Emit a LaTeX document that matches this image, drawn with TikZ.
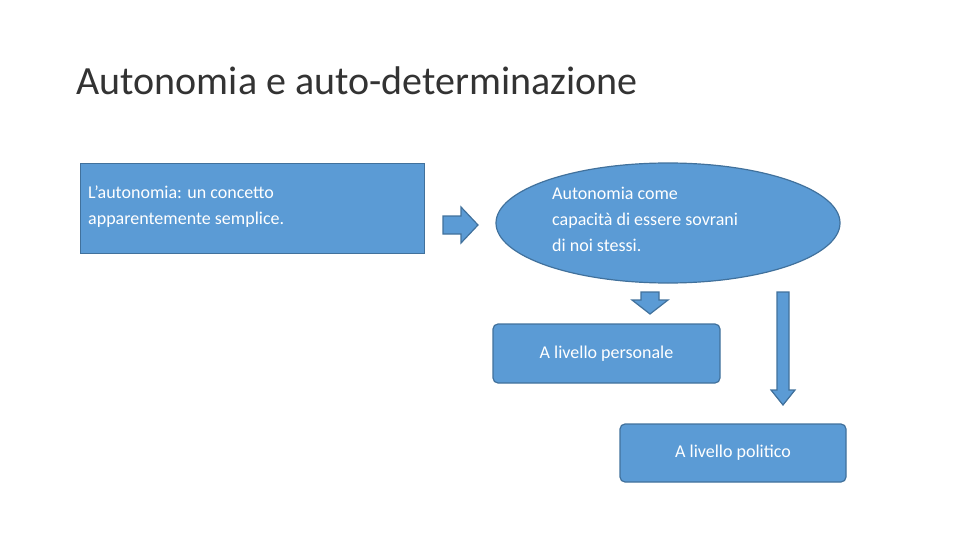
\documentclass[tikz,border=0pt]{standalone}
\usepackage{fontspec}
\setmainfont{Carlito}
\usetikzlibrary{shapes.geometric,shapes.arrows}
\definecolor{bfill}{HTML}{5B9BD5}
\definecolor{bdraw}{HTML}{41719C}
\tikzset{
 box/.style={fill=bfill,draw=bdraw,line width=1.2pt,text=white,font=\fontsize{18}{26}\selectfont},
 blk/.style={fill=bfill,draw=bdraw,line width=1.2pt}
}
\begin{document}
\begin{tikzpicture}[x=1pt,y=-1pt]
\useasboundingbox (0,0) rectangle (960,540);
\node[anchor=base west,font=\fontsize{40}{44}\selectfont,text=black!80] (t) at (73,95) {Autonomia e auto-determinazione};
\node[box,rectangle,minimum width=344pt,minimum height=90pt,anchor=north west] (r1) at (80,163) {};
\node[anchor=north west,text=white,font=\fontsize{18}{26}\selectfont,align=left,inner sep=0pt] (r1t) at (88,186) {L’autonomia: un concetto\\apparentemente semplice.};
\node[box,ellipse,minimum width=344pt,minimum height=120pt] (e) at (668,223) {};
\node[anchor=north west,text=white,font=\fontsize{18}{26}\selectfont,align=left,inner sep=0pt] (et) at (552,187) {Autonomia come\\capacità di essere sovrani\\di noi stessi.};
\node[box,rectangle,rounded corners=5pt,minimum width=227pt,minimum height=59pt] (p1) at (606.5,353.5) {A livello personale};
\node[box,rectangle,rounded corners=5pt,minimum width=226pt,minimum height=58pt] (p2) at (733,453) {A livello politico};
\draw[blk] (443,216)--(461,216)--(461,207)--(478,225)--(461,243)--(461,234)--(443,234)--cycle;
\draw[blk] (641,292)--(659,292)--(659,300)--(668,300)--(650,314)--(632,300)--(641,300)--cycle;
\draw[blk] (777,292)--(789,292)--(789,390)--(795,390)--(783,405)--(771,390)--(777,390)--cycle;
\end{tikzpicture}
\end{document}
